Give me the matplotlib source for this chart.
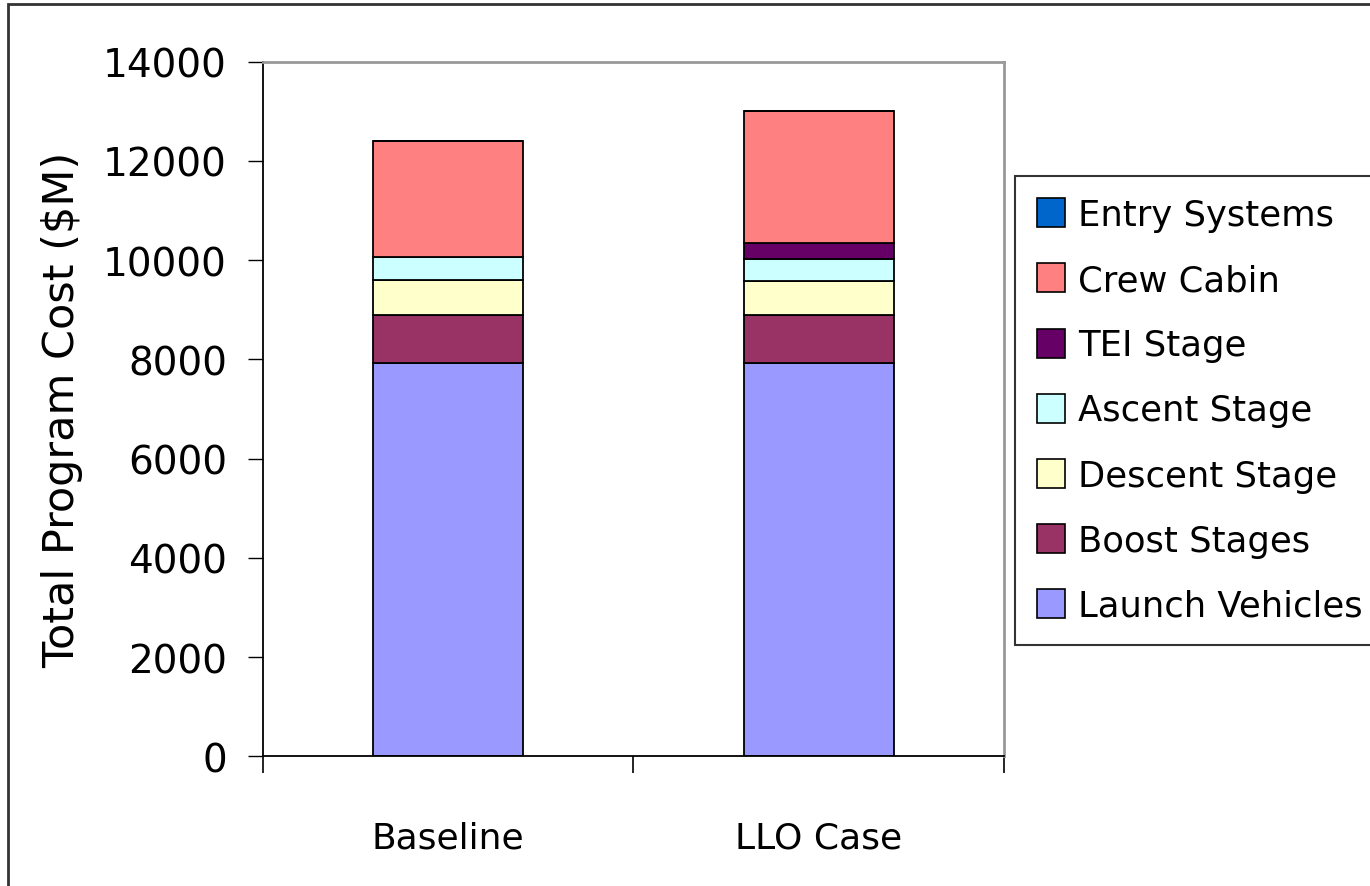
import matplotlib.pyplot as plt
from matplotlib.patches import Patch, Rectangle
import numpy as np

cases = ['Baseline', 'LLO Case']

# cost elements, bottom of the stack first ($M)
launch_vehicles = [7930, 7930]
boost_stages = [962, 962]
descent_stage = [711, 685]
ascent_stage = [458, 437]
tei_stage = [0, 329]
crew_cabin = [2332, 2654]
entry_systems = [0, 0]

names = ['Launch Vehicles', 'Boost Stages', 'Descent Stage', 'Ascent Stage',
         'TEI Stage', 'Crew Cabin', 'Entry Systems']
colors = ['#9999FF', '#993366', '#FFFFCC', '#CCFFFF', '#660066', '#FF8080', '#0066CC']
series = [launch_vehicles, boost_stages, descent_stage, ascent_stage,
          tei_stage, crew_cabin, entry_systems]

plt.rcParams['font.family'] = ['DejaVu Sans']

fig = plt.figure(figsize=(13.7, 8.87), dpi=100)
ax = fig.add_axes([263 / 1370, 1 - 757.3 / 887, 740.7 / 1370, 694.6 / 887])

x = np.arange(len(cases))
bottom = np.zeros(len(cases))
for vals, name, col in zip(series, names, colors):
    vals = np.array(vals, dtype=float)
    ax.bar(x, vals, 0.405, bottom=bottom, color=col, edgecolor='black',
           linewidth=1.3, label=name)
    bottom += vals

ax.set_xlim(-0.5, 1.5)
ax.set_ylim(0, 14000)
ax.set_yticks(np.arange(0, 14001, 2000))
ax.tick_params(axis='y', labelsize=28, length=11, width=1, pad=15, direction='out')

# category labels without marks, separator ticks between categories
ax.set_xticks(x)
ax.set_xticklabels(cases, fontsize=26)
ax.tick_params(axis='x', which='major', length=0, pad=46)
ax.set_xticks([-0.5, 0.5, 1.5], minor=True)
ax.tick_params(axis='x', which='minor', length=12, width=1.2, direction='out')

ax.set_ylabel('Total Program Cost ($M)', fontsize=31, va='center')
ax.yaxis.set_label_coords(-0.2714, 0.5)

for side in ['top', 'right']:
    ax.spines[side].set_color('#999999')
    ax.spines[side].set_linewidth(2)
for side in ['left', 'bottom']:
    ax.spines[side].set_color('black')
    ax.spines[side].set_linewidth(1.3)

handles = [Patch(facecolor=c, edgecolor='black', linewidth=1.2) for c in colors][::-1]
leg = fig.legend(handles, names[::-1], loc='upper left',
                 bbox_to_anchor=(1015 / 1370, 1 - 177 / 887), fontsize=25.5,
                 frameon=True, fancybox=False, borderaxespad=0, borderpad=0.62,
                 handlelength=0.8, handleheight=0.88, handletextpad=0.35,
                 labelspacing=0.88)
leg.get_frame().set_edgecolor('black')
leg.get_frame().set_linewidth(1.5)

# outer chart border
fig.patches.append(Rectangle((8 / 1370, -0.05), 1.1, 1 - 5 / 887 + 0.05,
                             transform=fig.transFigure, fill=False,
                             edgecolor='#333333', linewidth=2))

fig.savefig('out.png', dpi=100)
